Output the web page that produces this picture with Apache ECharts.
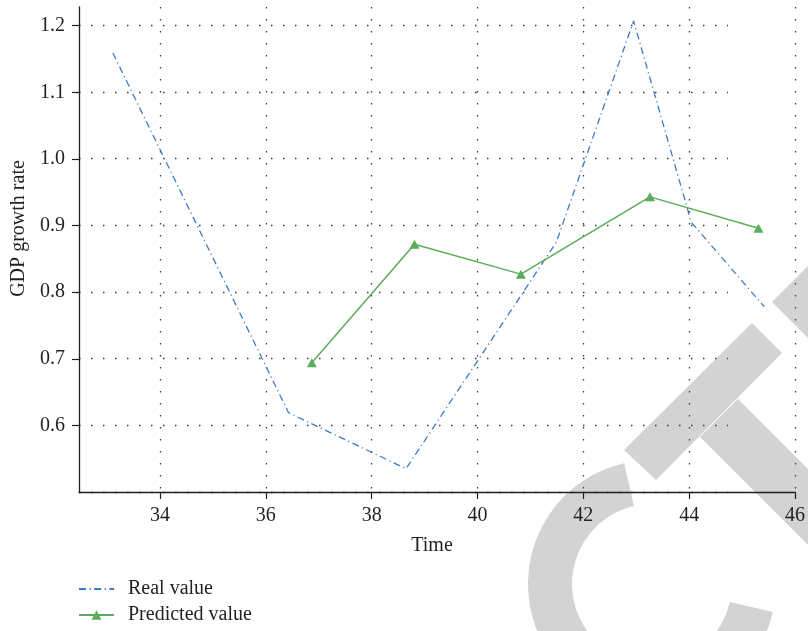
<!DOCTYPE html>
<html>
<head>
<meta charset="utf-8">
<script src="https://cdn.jsdelivr.net/npm/echarts@6/dist/echarts.min.js"></script>
<style>
  html, body { margin: 0; padding: 0; background: #ffffff; }
  #chart { width: 808px; height: 631px; }
</style>
</head>
<body>
<div id="chart"></div>
<script>
// Observed GDP growth rate over time
const realTime  = [33.11, 36.43, 38.65, 41.49, 42.95, 44.04, 45.42];
const realValue = [1.159, 0.619, 0.535, 0.875, 1.207, 0.905, 0.778];

// Model output
const predTime  = [36.87, 38.81, 40.82, 43.26, 45.31];
const predValue = [0.694, 0.872, 0.827, 0.943, 0.896];

// Tick positions
const xTicks = [34, 36, 38, 40, 42, 44, 46];
const yTicks = [0.6, 0.7, 0.8, 0.9, 1.0, 1.1, 1.2];

const seriesNames = ['Real value', 'Predicted value'];
const axisNames = { x: 'Time', y: 'GDP growth rate' };

const FONT = 'Liberation Serif';
const INK = '#231f20';
const DOT = '#3a3a3a';
const BLUE = '#3b7dc4';
const GREEN = '#5aad5a';
const GREY = '#d3d3d3';

const deg = d => d * Math.PI / 180;

const chart = echarts.init(document.getElementById('chart'), null, { renderer: 'canvas' });

const X_MIN = 32.47, X_MAX = 46, Y_MIN = 0.5, Y_MAX = 1.228;
const Y_GUIDE_MAX = 1.2;

const dotted = { color: DOT, width: 1.3, type: [1.5, 10.5] };

chart.setOption({
  backgroundColor: '#ffffff',
  animation: false,
  textStyle: { fontFamily: FONT },
  // faint stamp lettering behind the plot
  graphic: [
    {
      type: 'sector', z: -10, silent: true,
      shape: { cx: 652, cy: 584, r0: 80, r: 124, startAngle: deg(13), endAngle: deg(257), clockwise: true },
      style: { fill: GREY }
    },
    {
      type: 'polygon', z: -10, silent: true,
      shape: { points: [[624, 450], [752, 323], [782, 353], [656, 480]] },
      style: { fill: GREY }
    },
    {
      type: 'polygon', z: -10, silent: true,
      shape: { points: [[700, 437], [738, 399], [960, 621], [922, 659]] },
      style: { fill: GREY }
    },
    {
      type: 'polygon', z: -10, silent: true,
      shape: { points: [[772, 302], [850, 224], [850, 380]] },
      style: { fill: GREY }
    }
  ],
  grid: [
    { left: 79, right: 12, top: 7, bottom: 139, containLabel: false },
    // horizontal guide lines: same vertical scale, ending at 1.2 and short of the right edge
    { left: 79, right: 80, top: 25.4, bottom: 139, containLabel: false }
  ],
  legend: {
    orient: 'vertical',
    left: 78,
    top: 579,
    padding: 0,
    itemWidth: 35,
    itemHeight: 12,
    itemGap: 6,
    textStyle: { fontFamily: FONT, fontSize: 20, color: INK, lineHeight: 20, padding: [0, 0, 0, 9] },
    data: [
      { name: seriesNames[0], itemStyle: { opacity: 0 } },
      { name: seriesNames[1] }
    ]
  },
  xAxis: [
    {
      type: 'value', gridIndex: 0,
      min: X_MIN, max: X_MAX, splitNumber: 7,
      name: axisNames.x, nameLocation: 'middle', nameGap: 44,
      nameTextStyle: { fontFamily: FONT, fontSize: 20, color: INK, padding: [0, 10, 0, 0] },
      axisLine: { show: true, onZero: false, lineStyle: { color: INK, width: 1.3 } },
      axisTick: { show: true, length: 7, customValues: xTicks, lineStyle: { color: INK, width: 1.2 } },
      axisLabel: {
        fontFamily: FONT, fontSize: 20, color: INK, margin: 14,
        customValues: xTicks,
        formatter: v => String(Math.round(v))
      },
      splitLine: { show: true, lineStyle: dotted }
    },
    {
      type: 'value', gridIndex: 1, min: X_MIN, max: X_MAX, show: false
    }
  ],
  yAxis: [
    {
      type: 'value', gridIndex: 0,
      min: Y_MIN, max: Y_MAX, interval: 0.1,
      name: axisNames.y, nameLocation: 'middle', nameGap: 50,
      nameTextStyle: { fontFamily: FONT, fontSize: 20, color: INK, padding: [0, 0, 0, 42] },
      axisLine: { show: true, onZero: false, lineStyle: { color: INK, width: 1.3 } },
      axisTick: { show: true, length: 7, customValues: yTicks, lineStyle: { color: INK, width: 1.2 } },
      axisLabel: {
        fontFamily: FONT, fontSize: 20, color: INK, margin: 14,
        customValues: yTicks,
        formatter: v => v.toFixed(1)
      },
      splitLine: { show: false }
    },
    {
      type: 'value', gridIndex: 1,
      min: Y_MIN, max: Y_GUIDE_MAX, interval: 0.1,
      axisLine: { show: false }, axisTick: { show: false }, axisLabel: { show: false },
      splitLine: { show: true, lineStyle: dotted }
    }
  ],
  series: [
    {
      name: seriesNames[0], type: 'line',
      xAxisIndex: 0, yAxisIndex: 0,
      data: realTime.map((t, i) => [t, realValue[i]]),
      symbol: 'none',
      lineStyle: { color: BLUE, width: 1.3, type: [7, 3.5, 1.2, 3.5] },
      itemStyle: { color: BLUE },
      z: 3
    },
    {
      name: seriesNames[1], type: 'line',
      xAxisIndex: 0, yAxisIndex: 0,
      data: predTime.map((t, i) => [t, predValue[i]]),
      symbol: 'triangle', symbolSize: [10, 9],
      lineStyle: { color: GREEN, width: 1.5 },
      itemStyle: { color: GREEN, borderWidth: 0 },
      z: 4
    }
  ]
});
</script>
</body>
</html>
